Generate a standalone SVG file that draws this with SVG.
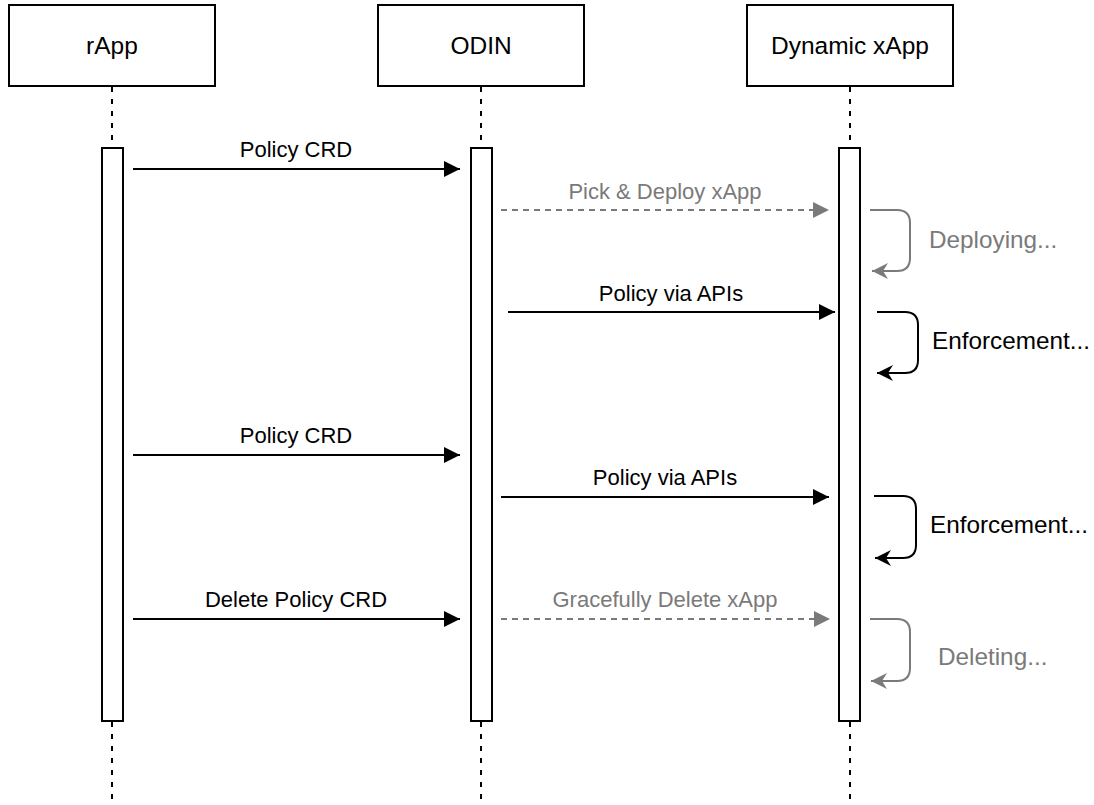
<svg xmlns="http://www.w3.org/2000/svg" width="1094" height="805" viewBox="0 0 1094 805">
  <style>
    text { font-family: "Liberation Sans", Arial, Helvetica, sans-serif; }
    .box { fill: #ffffff; stroke: #000000; stroke-width: 2; }
    .act { fill: #ffffff; stroke: #000000; stroke-width: 2; }
    .life { stroke: #000000; stroke-width: 2; stroke-dasharray: 5 7; fill: none; }
    .title { font-size: 24.5px; fill: #000000; text-anchor: middle; }
    .msg { font-size: 22px; text-anchor: middle; }
    .loopLabel { font-size: 24.3px; }
    .solid { stroke: #000000; stroke-width: 2; fill: none; }
    .dash { stroke: #7a7a7a; stroke-width: 2; fill: none; stroke-dasharray: 6 5; }
    .loopGray { stroke: #7a7a7a; stroke-width: 2; fill: none; }
    .loopBlack { stroke: #000000; stroke-width: 2; fill: none; }
    .black { fill: #000000; }
    .gray { fill: #7a7a7a; }
  </style>
  <defs>
    <marker id="blockBlack" markerUnits="userSpaceOnUse" markerWidth="18" markerHeight="18" viewBox="0 0 18 18" refX="17" refY="9" orient="auto">
      <path d="M1,1 L17,9 L1,17 Z" fill="#000000"/>
    </marker>
    <marker id="blockGray" markerUnits="userSpaceOnUse" markerWidth="18" markerHeight="18" viewBox="0 0 18 18" refX="17" refY="9" orient="auto">
      <path d="M1,1 L17,9 L1,17 Z" fill="#7a7a7a"/>
    </marker>
    <marker id="openBlack" markerUnits="userSpaceOnUse" markerWidth="20" markerHeight="20" viewBox="0 0 20 20" refX="18" refY="10" orient="auto">
      <path d="M2,2 L18,10 L2,18 L7,10 Z" fill="#000000"/>
    </marker>
    <marker id="openGray" markerUnits="userSpaceOnUse" markerWidth="20" markerHeight="20" viewBox="0 0 20 20" refX="18" refY="10" orient="auto">
      <path d="M2,2 L18,10 L2,18 L7,10 Z" fill="#7a7a7a"/>
    </marker>
  </defs>

  <rect width="1094" height="805" fill="#ffffff"/>

  <!-- participant: rApp -->
  <g id="rApp">
    <line class="life" x1="112" y1="87" x2="112" y2="148"/>
    <line class="life" x1="112" y1="722" x2="112" y2="805"/>
    <rect class="box" x="9" y="5" width="206" height="81"/>
    <text class="title" x="112" y="54">rApp</text>
    <rect class="act" x="102" y="148" width="21" height="573"/>
  </g>

  <!-- participant: ODIN -->
  <g id="odin">
    <line class="life" x1="481" y1="87" x2="481" y2="148"/>
    <line class="life" x1="481" y1="722" x2="481" y2="805"/>
    <rect class="box" x="378" y="5" width="206" height="81"/>
    <text class="title" x="481" y="54">ODIN</text>
    <rect class="act" x="471" y="148" width="21" height="573"/>
  </g>

  <!-- participant: Dynamic xApp -->
  <g id="dynamicXApp">
    <line class="life" x1="850" y1="87" x2="850" y2="148"/>
    <line class="life" x1="850" y1="722" x2="850" y2="805"/>
    <rect class="box" x="747" y="5" width="206" height="81"/>
    <text class="title" x="850" y="54">Dynamic xApp</text>
    <rect class="act" x="839" y="148" width="21" height="573"/>
  </g>

  <!-- messages -->
  <g id="connectors">
    <line class="solid" x1="133" y1="169" x2="460" y2="169" marker-end="url(#blockBlack)"/>
    <text class="msg black" x="296" y="157">Policy CRD</text>

    <line class="dash" x1="501" y1="210" x2="829" y2="210" marker-end="url(#blockGray)"/>
    <text class="msg gray" x="665" y="199">Pick &amp; Deploy xApp</text>

    <path class="loopGray" d="M870,210 H897 Q910,210 910,223 V258 Q910,271 897,271 H872" marker-end="url(#openGray)"/>
    <text class="loopLabel gray" x="929" y="248">Deploying...</text>

    <line class="solid" x1="508" y1="312" x2="835" y2="312" marker-end="url(#blockBlack)"/>
    <text class="msg black" x="671" y="301">Policy via APIs</text>

    <path class="loopBlack" d="M877,312 H905 Q918,312 918,325 V360 Q918,373 905,373 H877" marker-end="url(#openBlack)"/>
    <text class="loopLabel black" x="932" y="349">Enforcement...</text>

    <line class="solid" x1="133" y1="455" x2="460" y2="455" marker-end="url(#blockBlack)"/>
    <text class="msg black" x="296" y="443">Policy CRD</text>

    <line class="solid" x1="501" y1="497" x2="829" y2="497" marker-end="url(#blockBlack)"/>
    <text class="msg black" x="665" y="485">Policy via APIs</text>

    <path class="loopBlack" d="M874,496 H903 Q916,496 916,509 V545 Q916,558 903,558 H875" marker-end="url(#openBlack)"/>
    <text class="loopLabel black" x="930" y="533">Enforcement...</text>

    <line class="solid" x1="133" y1="619" x2="460" y2="619" marker-end="url(#blockBlack)"/>
    <text class="msg black" x="296" y="607">Delete Policy CRD</text>

    <line class="dash" x1="501" y1="619" x2="830" y2="619" marker-end="url(#blockGray)"/>
    <text class="msg gray" x="665" y="607">Gracefully Delete xApp</text>

    <path class="loopGray" d="M870,619 H897 Q910,619 910,632 V668 Q910,681 897,681 H871" marker-end="url(#openGray)"/>
    <text class="loopLabel gray" x="938" y="665">Deleting...</text>
  </g>
</svg>
